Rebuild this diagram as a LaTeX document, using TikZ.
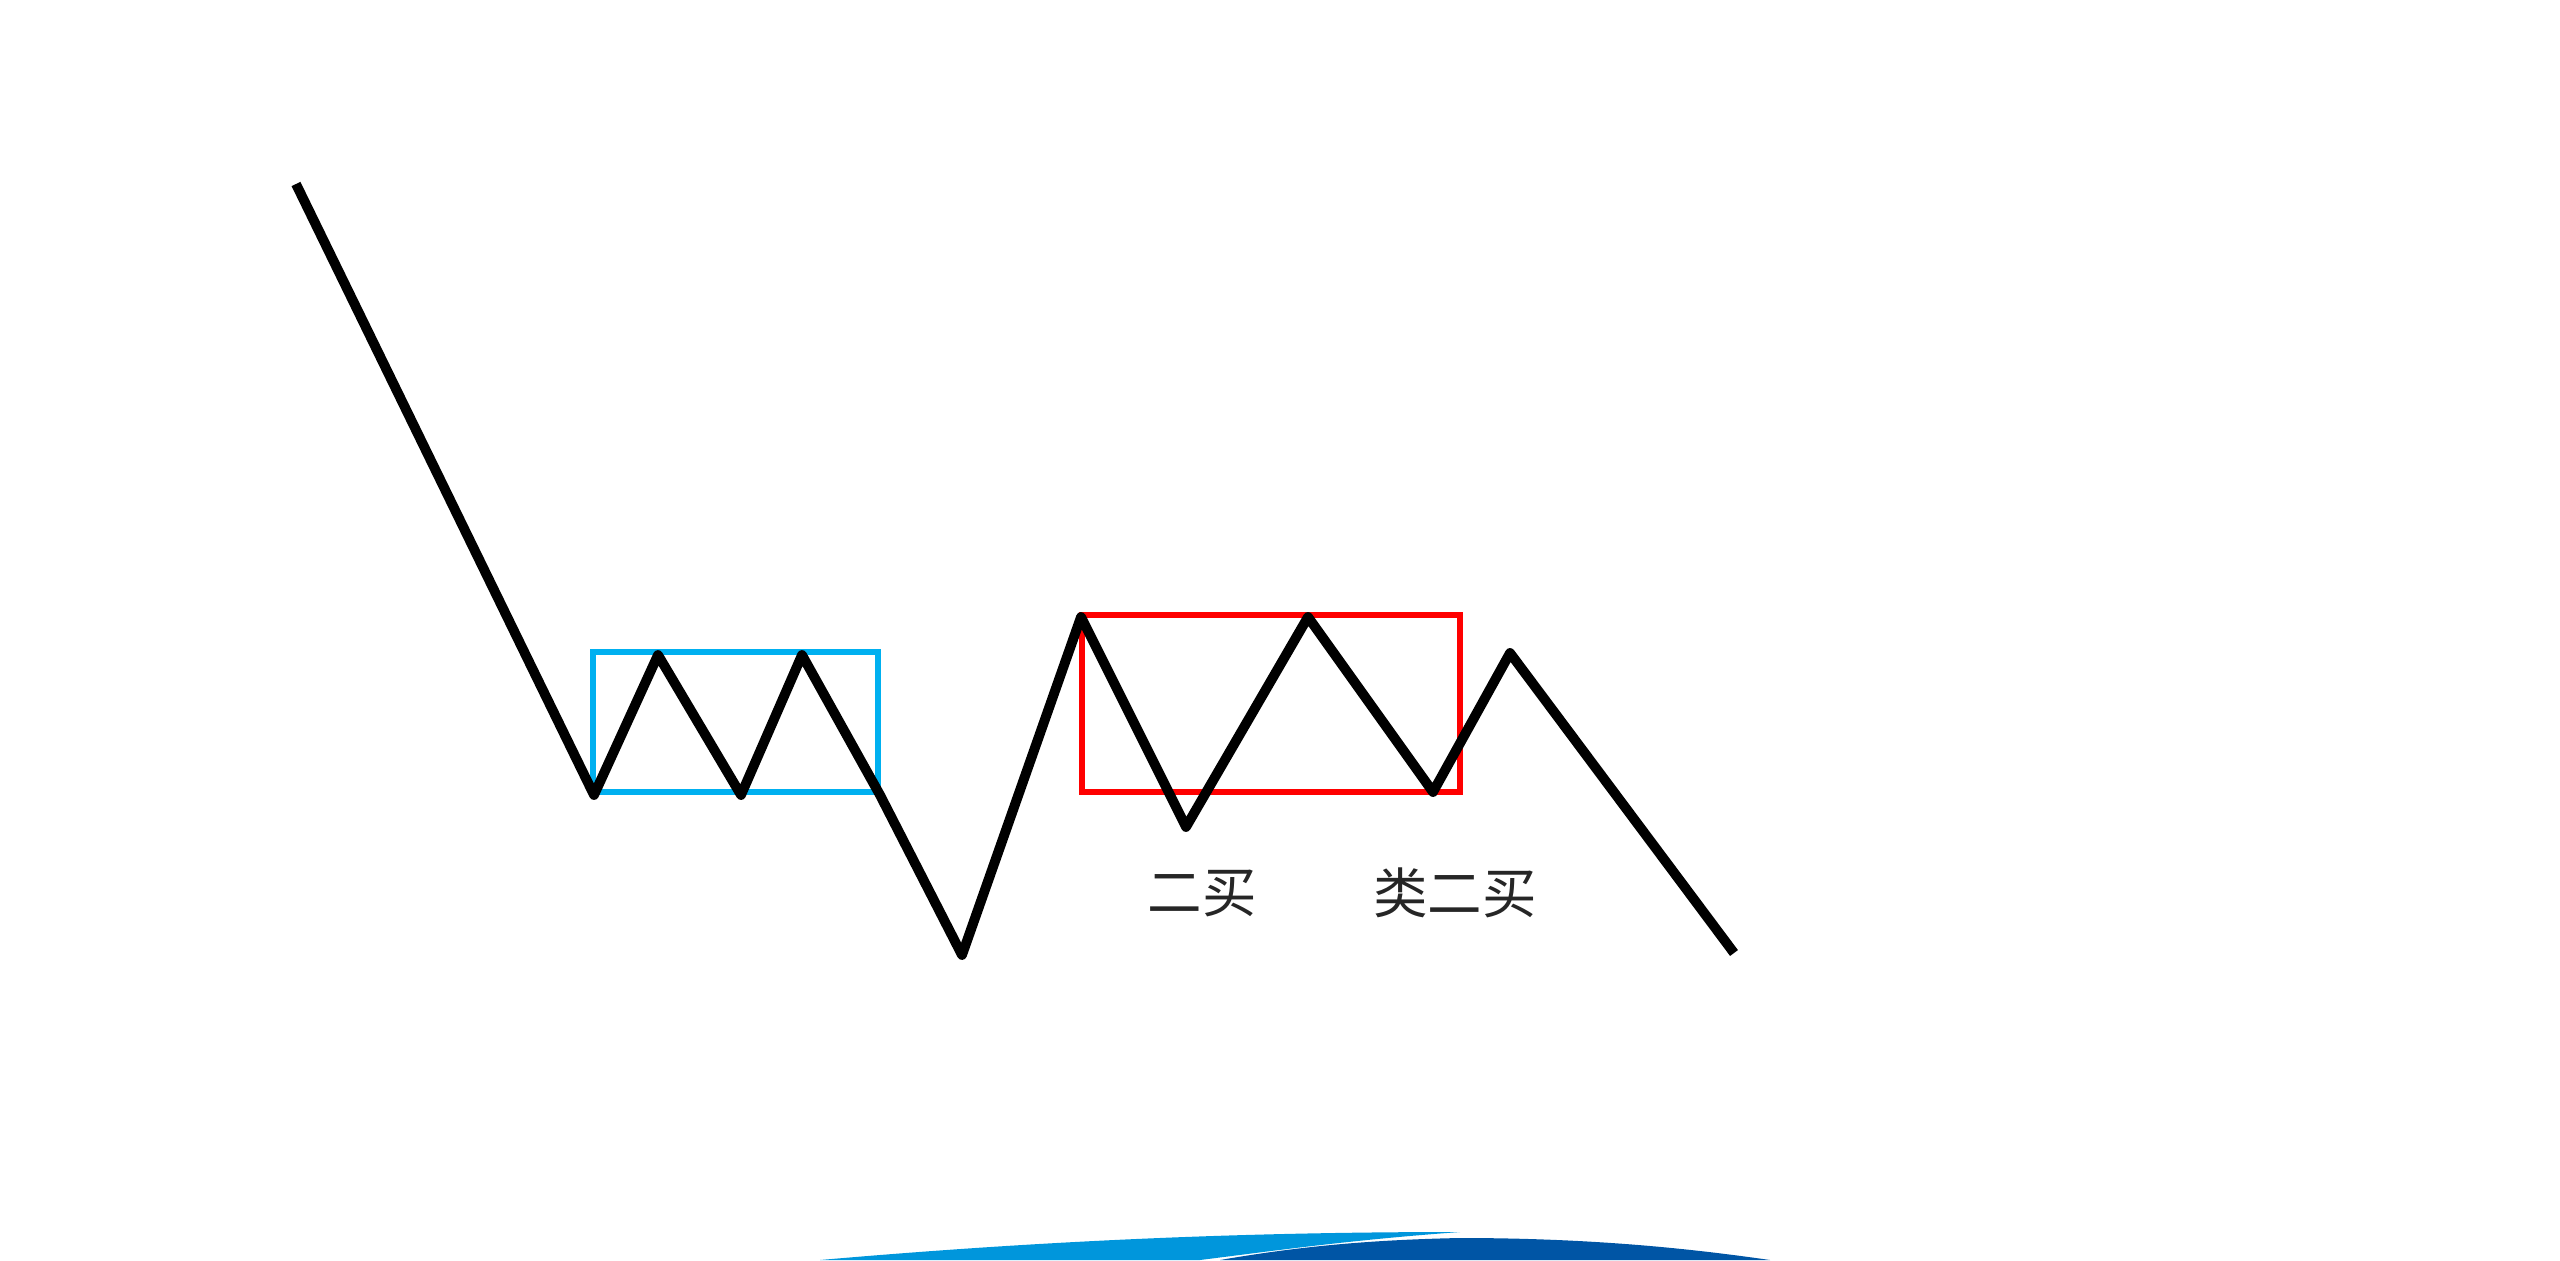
\documentclass[tikz,border=0pt]{standalone}
\usepackage{fontspec}
\newfontfamily\cjk{Noto Sans CJK SC}
\usetikzlibrary{positioning}
\definecolor{hubblue}{RGB}{0,176,240}

\begin{document}
\begin{tikzpicture}[
        price/.style={line width=2.8pt, black, line join=round},
        hubbox/.style={draw, line width=1.6pt},
        buylabel/.style={font=\cjk\fontsize{15.5}{18}\selectfont, text=black!85, inner sep=0pt}
    ]
    \useasboundingbox (0,0) rectangle (25.6,12.6);

    % Price path points
    \coordinate (p0) at (2.96,10.76);
    \coordinate (p1) at (5.94,4.65);
    \coordinate (p2) at (6.58,6.05);
    \coordinate (p3) at (7.41,4.65);
    \coordinate (p4) at (8.02,6.05);
    \coordinate (p5) at (8.80,4.65);
    \coordinate (p6) at (9.62,3.05);
    \coordinate (p7) at (10.81,6.43);
    \coordinate (p8) at (11.86,4.33);
    \coordinate (p9) at (13.08,6.43);
    \coordinate (p10) at (14.33,4.68);
    \coordinate (p11) at (15.10,6.07);
    \coordinate (p12) at (17.34,3.07);

    % Boxes (hubs)
    \draw[hubbox, hubblue] (5.93,4.68) rectangle (8.78,6.08);
    \draw[hubbox, red] (10.82,4.68) rectangle (14.60,6.45);

    % Zigzag
    \draw[price] (p0) -- (p1) -- (p2) -- (p3) -- (p4) -- (p5) -- (p6)
        -- (p7) -- (p8) -- (p9) -- (p10) -- (p11) -- (p12);

    % Labels
    \node[buylabel] (second) at (12.02,3.67) {二买};
    \node[buylabel] (likesecond) at (14.55,3.67) {类二买};

    % Logo swoosh at the bottom edge
    \fill[color={rgb,255:red,0;green,150;blue,220}] (8.2,0) .. controls (10.5,0.2) and (12.5,0.28) .. (14.6,0.28)
        .. controls (13.5,0.2) and (12.8,0.1) .. (12.0,0) -- cycle;
    \fill[color={rgb,255:red,0;green,85;blue,165}] (12.2,0) .. controls (12.9,0.12) and (13.6,0.2) .. (14.6,0.22)
        .. controls (16,0.22) and (17,0.1) .. (17.7,0) -- cycle;
\end{tikzpicture}
\end{document}
